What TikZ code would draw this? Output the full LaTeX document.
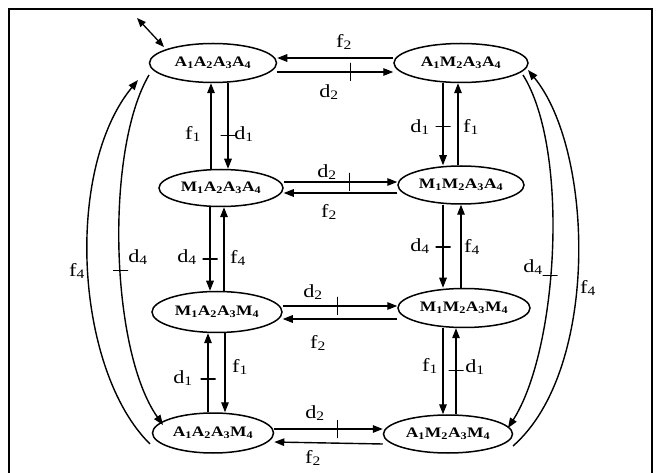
\documentclass[tikz,border=0pt]{standalone}
\usepackage{fontspec}
\setmainfont{Liberation Serif}[FakeStretch=1.2]
\usetikzlibrary{arrows.meta,shapes.geometric}
\newcommand{\sbs}[1]{\textsubscript{#1}}
\begin{document}
\begin{tikzpicture}[x=1pt,y=-1pt,
  st/.style={ellipse,draw,line width=1.5pt,inner sep=0pt,font=\fontsize{14.5}{16}\selectfont\bfseries},
  arr/.style={line width=1.4pt,-{Triangle[length=10pt,width=7.5pt]}},
  darr/.style={line width=1.3pt,{Triangle[length=9pt,width=7pt]}-{Triangle[length=9pt,width=7pt]}},
  lab/.style={inner sep=0pt,font=\fontsize{18.5}{20}\selectfont},
  tickh/.style={draw,line width=1.3pt,inner sep=0pt,minimum width=15pt,minimum height=0pt,outer sep=0pt},
  tickv/.style={draw,line width=1.3pt,inner sep=0pt,minimum height=18pt,minimum width=0pt,outer sep=0pt}]
\useasboundingbox (0,0) rectangle (670,473);
\clip (0,0) rectangle (670,473);
\draw[line width=2.4pt] (9,490) -- (9,9) -- (652,9) -- (652,490);

% states
\node[st,minimum width=127pt,minimum height=39pt] (n1) at (213,63) {A\sbs{1}A\sbs{2}A\sbs{3}A\sbs{4}};
\node[st,minimum width=134pt,minimum height=39pt] (n2) at (461,63) {A\sbs{1}M\sbs{2}A\sbs{3}A\sbs{4}};
\node[st,minimum width=124pt,minimum height=37pt] (n3) at (221,188) {M\sbs{1}A\sbs{2}A\sbs{3}A\sbs{4}};
\node[st,minimum width=126pt,minimum height=38pt] (n4) at (461,185) {M\sbs{1}M\sbs{2}A\sbs{3}A\sbs{4}};
\node[st,minimum width=130pt,minimum height=41pt] (n5) at (217,312) {M\sbs{1}A\sbs{2}A\sbs{3}M\sbs{4}};
\node[st,minimum width=132pt,minimum height=39pt] (n6) at (464,308) {M\sbs{1}M\sbs{2}A\sbs{3}M\sbs{4}};
\node[st,minimum width=121pt,minimum height=40pt] (n7) at (213,433) {A\sbs{1}A\sbs{2}A\sbs{3}M\sbs{4}};
\node[st,minimum width=129pt,minimum height=38pt] (n8) at (448,434) {A\sbs{1}M\sbs{2}A\sbs{3}M\sbs{4}};

\coordinate (tl) at (137,18);
\draw[darr] (tl) -- ([shift={(-49,-16)}]n1.center);

% horizontal pairs
\draw[arr] ([yshift=5pt]n2.west) -- ([yshift=5pt]n1.east);
\draw[arr] ([yshift=-9pt]n1.east) -- node[pos=0.63,tickv]{} ([yshift=-9pt]n2.west);
\draw[arr] ([yshift=6pt]n3.east) -- node[pos=0.58,tickv]{} ([yshift=3pt]n4.west);
\draw[arr] ([yshift=-8pt]n4.west) -- ([yshift=-5pt]n3.east);
\draw[arr] ([yshift=6pt]n5.east) -- node[pos=0.48,tickv]{} ([yshift=2pt]n6.west);
\draw[arr] ([yshift=-11pt]n6.west) -- ([yshift=-7pt]n5.east);
\draw[arr] ([yshift=4pt]n7.east) -- node[pos=0.58,tickv]{} ([yshift=5pt]n8.west);
\draw[arr] ([yshift=-10pt]n8.west) -- ([yshift=-9pt]n7.east);

% vertical pairs, left column
\draw[arr] ([xshift=-10pt]n3.north) -- ([xshift=-2pt]n1.south);
\draw[arr] ([xshift=15pt]n1.south) -- node[pos=0.61,tickh]{} ([xshift=7pt]n3.north);
\draw[arr] ([xshift=-11pt]n3.south) -- node[pos=0.62,tickh]{} ([xshift=-7pt]n5.north);
\draw[arr] ([xshift=7pt]n5.north) -- ([xshift=3pt]n3.south);
\draw[arr] ([xshift=-5pt]n7.north) -- node[pos=0.42,tickh]{} ([xshift=-9pt]n5.south);
\draw[arr] ([xshift=8pt]n5.south) -- ([xshift=12pt]n7.north);

% vertical pairs, right column
\draw[arr] ([xshift=-18pt]n2.south) -- node[pos=0.53,tickh]{} ([xshift=-18pt]n4.north);
\draw[arr] ([xshift=-3pt]n4.north) -- ([xshift=-3pt]n2.south);
\draw[arr] ([xshift=-18pt]n4.south) -- node[pos=0.51,tickh]{} ([xshift=-21pt]n6.north);
\draw[arr] ([xshift=-3pt]n6.north) -- ([xshift=0pt]n4.south);
\draw[arr] ([xshift=-21pt]n6.south) -- ([xshift=-5pt]n8.north);
\draw[arr] ([xshift=8pt]n8.north) -- node[pos=0.51,tickh]{} ([xshift=-8pt]n6.south);

% long curves
\draw[arr] ([shift={(-63,11)}]n7.center) .. controls (75,370) and (64,170) .. ([shift={(-75,17)}]n1.center);
\draw[arr] ([shift={(-64,12)}]n1.center) .. controls (105,150) and (110,350) .. node[pos=0.55,tickh]{} ([shift={(-50,-8)}]n7.center);
\draw[arr] ([shift={(62,12)}]n2.center) .. controls (570,150) and (558,350) .. node[pos=0.56,tickh]{} ([shift={(60,-6)}]n8.center);
\draw[arr] ([shift={(65,12)}]n8.center) .. controls (600,370) and (594,150) .. ([shift={(67,7)}]n2.center);

% labels
\node[lab] (l1) at (344,42) {f\sbs{2}};
\node[lab] (l2) at (329,92) {d\sbs{2}};
\node[lab] (l3) at (327,172) {d\sbs{2}};
\node[lab] (l4) at (329,212) {f\sbs{2}};
\node[lab] (l5) at (313,292) {d\sbs{2}};
\node[lab] (l6) at (318,343) {f\sbs{2}};
\node[lab] (l7) at (315,413) {d\sbs{2}};
\node[lab] (l8) at (313,458) {f\sbs{2}};
\node[lab] (l9) at (193,134) {f\sbs{1}};
\node[lab] (l10) at (244,134) {d\sbs{1}};
\node[lab] (l11) at (187,257) {d\sbs{4}};
\node[lab] (l12) at (238,258) {f\sbs{4}};
\node[lab] (l13) at (183,378) {d\sbs{1}};
\node[lab] (l14) at (240,367) {f\sbs{1}};
\node[lab] (l15) at (420,127) {d\sbs{1}};
\node[lab] (l16) at (471,127) {f\sbs{1}};
\node[lab] (l17) at (420,246) {d\sbs{4}};
\node[lab] (l18) at (472,247) {f\sbs{4}};
\node[lab] (l19) at (430,366) {f\sbs{1}};
\node[lab] (l20) at (475,367) {d\sbs{1}};
\node[lab] (l21) at (77,271) {f\sbs{4}};
\node[lab] (l22) at (138,257) {d\sbs{4}};
\node[lab] (l23) at (533,267) {d\sbs{4}};
\node[lab] (l24) at (588,288) {f\sbs{4}};
\end{tikzpicture}
\end{document}
